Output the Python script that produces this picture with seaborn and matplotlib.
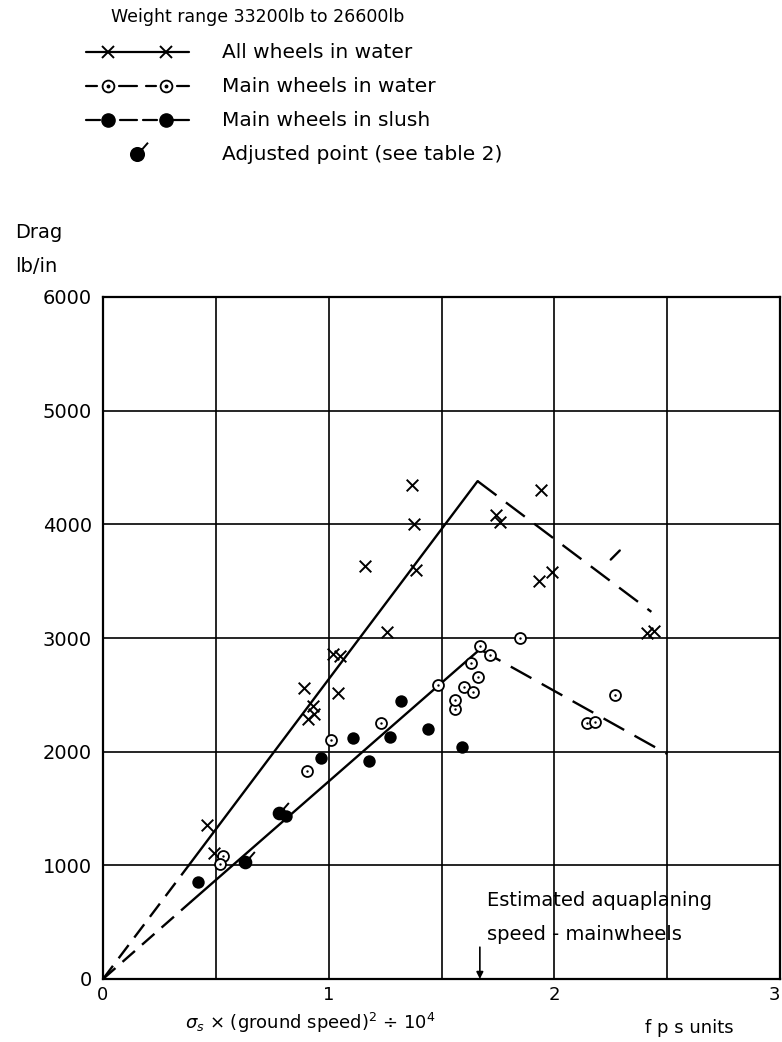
import matplotlib
matplotlib.use("Agg")
import matplotlib.pyplot as plt
from matplotlib.path import Path
import seaborn as sns

# ---- data: drag (lb/in) against sigma_s * (ground speed)^2 / 1e4 (fps units) ----
all_water_x = [0.46, 0.49, 0.89, 0.91, 0.93, 0.935, 1.02, 1.05, 1.04, 1.16, 1.26,
               1.37, 1.38, 1.385, 1.74, 1.76, 1.93, 1.99, 1.94, 2.41, 2.44]
all_water_y = [1357, 1110, 2560, 2290, 2400, 2330, 2860, 2840, 2520, 3630, 3050,
               4350, 4000, 3600, 4080, 4020, 3500, 3580, 4300, 3040, 3060]

main_water_x = [0.53, 0.52, 0.905, 1.01, 1.23, 1.485, 1.56, 1.56, 1.60, 1.64, 1.66,
                1.63, 1.715, 1.67, 1.85, 2.145, 2.18, 2.27]
main_water_y = [1080, 1010, 1833, 2103, 2250, 2586, 2371, 2455, 2565, 2527, 2661,
                2783, 2850, 2930, 3000, 2255, 2260, 2500]

main_slush_x = [0.42, 0.81, 0.965, 1.11, 1.18, 1.27, 1.32, 1.44, 1.59]
main_slush_y = [850, 1430, 1944, 2118, 1920, 2130, 2450, 2200, 2040]

adjusted_x = [0.63, 0.78]
adjusted_y = [1030, 1460]

# faired lines: all wheels (upper) and main wheels (lower)
upper_dash_in_x = [0.0, 0.38]
upper_dash_in_y = [0, 1000]
upper_solid_x = [0.38, 1.66]
upper_solid_y = [1000, 4380]
upper_dash_out_x = [1.66, 2.43]
upper_dash_out_y = [4380, 3230]

lower_dash_in_x = [0.0, 0.39]
lower_dash_in_y = [0, 680]
lower_solid_x = [0.39, 1.67]
lower_solid_y = [680, 2900]
lower_dash_out_x = [1.67, 2.50]
lower_dash_out_y = [2900, 1980]

stray_x = [2.25, 2.29]
stray_y = [3690, 3770]

aquaplaning_x = 1.67

x_ticks = [0, 1, 2, 3]
x_tick_labels = ["0", "1", "2", "3"]
y_ticks = [0, 1000, 2000, 3000, 4000, 5000, 6000]
y_tick_labels = ["0", "1000", "2000", "3000", "4000", "5000", "6000"]

title_text = "Weight range 33200lb to 26600lb"
legend_labels = ["All wheels in water", "Main wheels in water",
                 "Main wheels in slush", "Adjusted point (see table 2)"]

# ---- style ----
sns.set_style("white")
plt.rcParams["font.family"] = ["DejaVu Sans"]
plt.rcParams["mathtext.fontset"] = "dejavusans"
plt.rcParams["text.color"] = "black"
plt.rcParams["xtick.color"] = "black"
plt.rcParams["ytick.color"] = "black"
FS = 14

# filled dot with a short stroke for adjusted points
_circ = Path.unit_circle()
adj_marker = Path.make_compound_path(
    _circ, Path([(0.55, 0.6), (1.6, 1.8)], [Path.MOVETO, Path.LINETO]))

W, H = 782, 1042
fig = plt.figure(figsize=(W / 100, H / 100), dpi=100)
ax = fig.add_axes([103 / W, 1 - 979 / H, 677 / W, 682 / H])

ax.set_xlim(0, 3)
ax.set_ylim(0, 6000)
ax.set_xticks(x_ticks)
ax.set_xticklabels(x_tick_labels, fontsize=FS - 1)
ax.get_xticklabels()[-1].set_ha("right")
ax.set_xticks([0.5, 1.5, 2.5], minor=True)
ax.set_yticks(y_ticks)
ax.set_yticklabels(y_tick_labels, fontsize=FS)
ax.tick_params(which="both", length=0)
ax.tick_params(axis="y", pad=8)
ax.tick_params(axis="x", pad=5)
ax.grid(True, which="both", color="black", linewidth=1.2)
for s in ax.spines.values():
    s.set_color("black")
    s.set_linewidth(1.6)
ax.set_axisbelow(True)


def seg(xs, ys, ls):
    sns.lineplot(x=xs, y=ys, ax=ax, color="black", linewidth=1.7,
                 linestyle=ls, sort=False, estimator=None)


seg(upper_dash_in_x, upper_dash_in_y, (0, (7, 4)))
seg(upper_solid_x, upper_solid_y, "-")
seg(upper_dash_out_x, upper_dash_out_y, (0, (10, 5)))
seg(lower_dash_in_x, lower_dash_in_y, (0, (7, 4)))
seg(lower_solid_x, lower_solid_y, "-")
seg(lower_dash_out_x, lower_dash_out_y, (0, (10, 5)))
seg(stray_x, stray_y, "-")

# points
sns.scatterplot(x=all_water_x, y=all_water_y, ax=ax, marker="x", s=70,
                color="black", linewidth=1.4, zorder=5)
sns.scatterplot(x=main_water_x, y=main_water_y, ax=ax, marker="o", s=62,
                facecolor="white", edgecolor="black", linewidth=1.3, zorder=5)
sns.scatterplot(x=main_water_x, y=main_water_y, ax=ax, marker="o", s=3,
                color="black", linewidth=0, zorder=6)
sns.scatterplot(x=main_slush_x, y=main_slush_y, ax=ax, marker="o", s=80,
                color="black", linewidth=0, zorder=5)
sns.scatterplot(x=adjusted_x, y=adjusted_y, ax=ax, marker=adj_marker, s=230,
                color="black", edgecolor="black", linewidth=1.4, zorder=5)

# aquaplaning annotation
ax.text(1.70, 690, "Estimated aquaplaning", fontsize=FS, va="center", ha="left")
ax.text(1.70, 390, "speed - mainwheels", fontsize=FS, va="center", ha="left")
ax.annotate("", xy=(aquaplaning_x, 0), xytext=(aquaplaning_x, 280),
            arrowprops=dict(arrowstyle="-|>", color="black", lw=1.2,
                            mutation_scale=10, shrinkA=0, shrinkB=0))

# axis captions
ax.text(0.92, -0.064, r"$\sigma_s$ × (ground speed)$^2$ ÷ 10$^4$", fontsize=FS - 1,
        transform=ax.get_xaxis_transform(), ha="center", va="center")
ax.text(2.6, -0.072, "f p s units", fontsize=FS - 1,
        transform=ax.get_xaxis_transform(), ha="center", va="center")
fig.text(15 / W, 1 - 232 / H, "Drag", fontsize=FS, va="center", ha="left")
fig.text(15 / W, 1 - 266 / H, "lb/in", fontsize=FS, va="center", ha="left")

# key at the top of the sheet
key = fig.add_axes([0, 0, 1, 1], zorder=-1)
key.set_xlim(0, W)
key.set_ylim(H, 0)
key.axis("off")
fig.text(111 / W, 1 - 17 / H, title_text, fontsize=FS - 1.5, va="center", ha="left")

rows_y = [52, 86, 120, 154]
key.plot([86, 189], [rows_y[0]] * 2, color="black", lw=1.6)
key.plot([108, 166], [rows_y[0]] * 2, ls="none", marker="x", ms=8, mew=1.4, color="black")
for a, b in [(86, 97), (119, 137), (146, 156), (177, 189)]:
    key.plot([a, b], [rows_y[1]] * 2, color="black", lw=1.6)
key.plot([108, 166], [rows_y[1]] * 2, ls="none", marker="o", ms=8.5, mfc="white",
         mec="black", mew=1.3)
key.plot([108, 166], [rows_y[1]] * 2, ls="none", marker="o", ms=1.8, color="black")
for a, b in [(86, 100), (120, 137), (143, 157), (173, 189)]:
    key.plot([a, b], [rows_y[2]] * 2, color="black", lw=1.6)
key.plot([108, 166], [rows_y[2]] * 2, ls="none", marker="o", ms=9.5, color="black")
key.plot([137], [rows_y[3]], ls="none", marker=adj_marker, ms=17, color="black",
         mec="black", mew=1.4)
for lab, yy in zip(legend_labels, rows_y):
    fig.text(222 / W, 1 - yy / H, lab, fontsize=FS + 0.5, va="center", ha="left")

fig.savefig("out.png", dpi=100, facecolor="white")
